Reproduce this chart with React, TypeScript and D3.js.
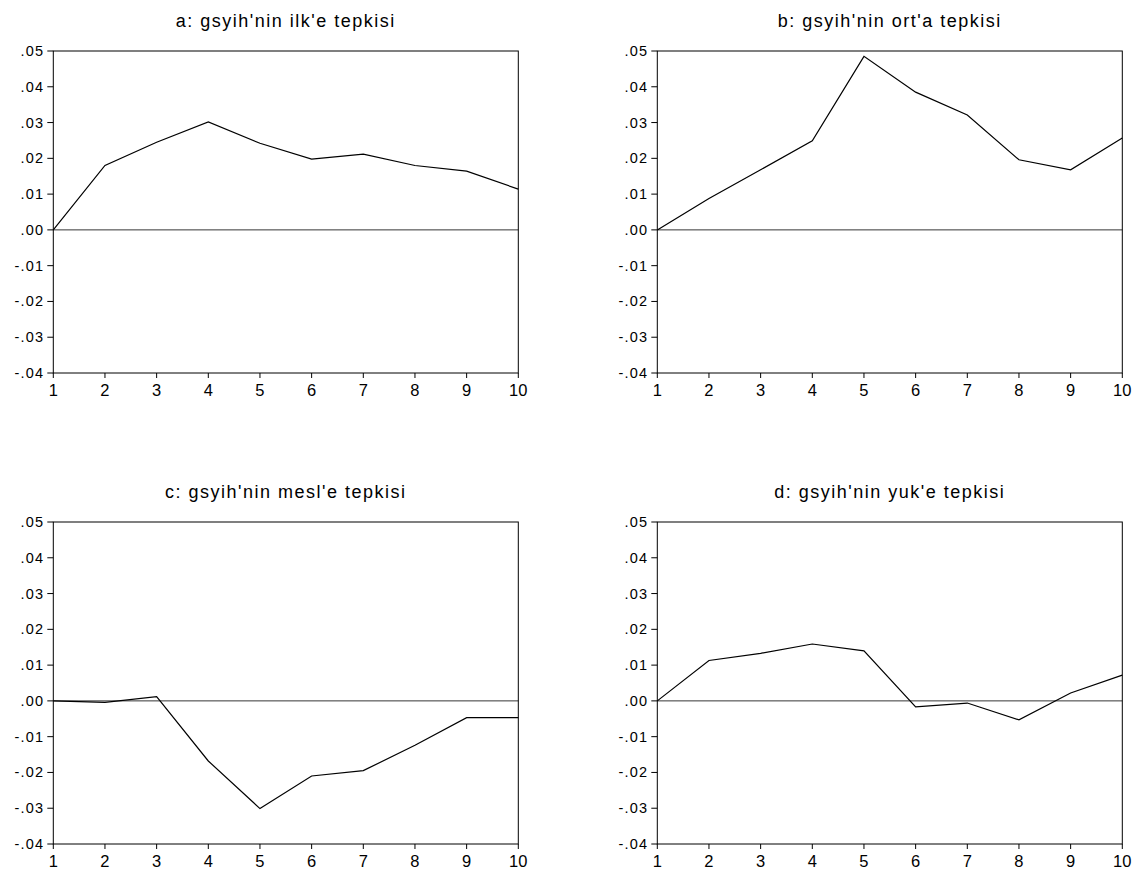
import React from "react";
import * as d3 from "d3";

const periods = [1, 2, 3, 4, 5, 6, 7, 8, 9, 10];
const yTicks = [0.05, 0.04, 0.03, 0.02, 0.01, 0, -0.01, -0.02, -0.03, -0.04];
const yTickLabels = [".05", ".04", ".03", ".02", ".01", ".00", "-.01", "-.02", "-.03", "-.04"];

const titles = [
  "a: gsyih'nin ilk'e tepkisi",
  "b: gsyih'nin ort'a tepkisi",
  "c: gsyih'nin mesl'e tepkisi",
  "d: gsyih'nin yuk'e tepkisi",
];

const seriesA = [0, 0.018, 0.0245, 0.0302, 0.0242, 0.0198, 0.0212, 0.018, 0.0164, 0.0114];
const seriesB = [0, 0.0088, 0.0168, 0.0249, 0.0485, 0.0385, 0.0321, 0.0196, 0.0168, 0.0257];
const seriesC = [0, -0.0004, 0.0012, -0.0168, -0.0301, -0.021, -0.0195, -0.0124, -0.0047, -0.0047];
const seriesD = [0, 0.0113, 0.0133, 0.0159, 0.014, -0.0017, -0.0006, -0.0053, 0.0022, 0.0072];

const allSeries = [seriesA, seriesB, seriesC, seriesD];

const panelLefts = [53.3, 657.3];
const panelTops = [51, 522];
const panelW = 465;
const panelH = 322;
const FONT = "'Liberation Sans', Arial, sans-serif";

function Panel({ left, top, title, values }: { left: number; top: number; title: string; values: number[] }) {
  const x = d3.scaleLinear().domain([1, 10]).range([left, left + panelW]);
  const y = d3.scaleLinear().domain([-0.04, 0.05]).range([top + panelH, top]);
  const line = d3
    .line<number>()
    .x((_, i) => x(periods[i]))
    .y((d) => y(d));
  return (
    <g>
      <text
        x={left + panelW / 2}
        y={top - 24}
        textAnchor="middle"
        fontFamily={FONT}
        fontSize={18}
        letterSpacing={1.5}
        fill="#000"
      >
        {title}
      </text>
      {yTicks.map((t, i) => (
        <g key={"y" + i}>
          <line x1={x(1) - 6} x2={x(1)} y1={y(t)} y2={y(t)} stroke="#000" strokeWidth={1} />
          <text
            x={x(1) - 9}
            y={y(t) + 5}
            textAnchor="end"
            fontFamily={FONT}
            fontSize={14.5}
            letterSpacing={1.2}
            fill="#000"
          >
            {yTickLabels[i]}
          </text>
        </g>
      ))}
      {periods.map((p) => (
        <g key={"x" + p}>
          <line x1={x(p)} x2={x(p)} y1={y(-0.04)} y2={y(-0.04) + 5} stroke="#000" strokeWidth={1} />
          <text
            x={x(p)}
            y={y(-0.04) + 23}
            textAnchor="middle"
            fontFamily={FONT}
            fontSize={16.5}
            fill="#000"
          >
            {p}
          </text>
        </g>
      ))}
      <line x1={x(1)} x2={x(10)} y1={y(0)} y2={y(0)} stroke="#000" strokeWidth={0.8} />
      <path d={line(values) || ""} fill="none" stroke="#000" strokeWidth={1.2} />
      <rect x={x(1)} y={y(0.05)} width={panelW} height={panelH} fill="none" stroke="#000" strokeWidth={1} />
    </g>
  );
}

export default function App() {
  return (
    <svg width={1139} height={875} style={{ position: "absolute", left: 0, top: 0, background: "#fff" }}>
      <rect x={0} y={0} width={1139} height={875} fill="#fff" />
      {allSeries.map((s, i) => (
        <Panel
          key={i}
          left={panelLefts[i % 2]}
          top={panelTops[Math.floor(i / 2)]}
          title={titles[i]}
          values={s}
        />
      ))}
    </svg>
  );
}
